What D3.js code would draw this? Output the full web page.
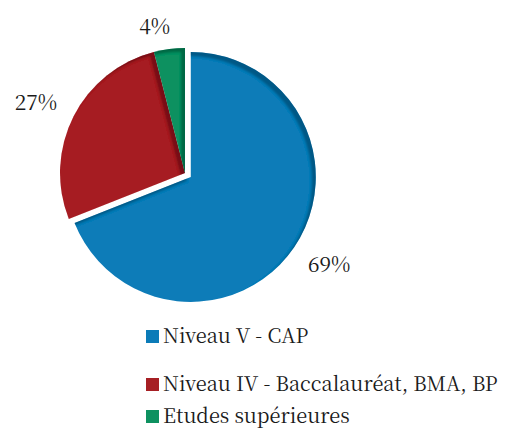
<!DOCTYPE html>
<html>
<head>
<meta charset="utf-8">
<script src="https://cdn.jsdelivr.net/npm/d3@7"></script>
<style>
  body { margin: 0; background: #fff; }
</style>
</head>
<body>
<div id="chart"></div>
<script>
var width = 509, height = 428
var serif = "'Noto Serif CJK SC'"

// data
const categories = ["Niveau V - CAP", "Niveau IV - Baccalauréat, BMA, BP", "Etudes supérieures"];
const values = [69, 27, 4];
const labels = ["69%", "27%", "4%"];
const colors = ["#0b7bb8", "#a61f24", "#0e9160"];
const explode = [7, 0, 0];

var cx = 185, cy = 173, radius = 125, labelGap = 21
// small manual nudge for the label of the thin slice
var labelNudge = [[0, 0], [0, 0], [-10, 8]]

var svg = d3.select("#chart")
    .append("svg")
    .attr("width", width)
    .attr("height", height)

// inner shadow for the bevel look
var defs = svg.append("defs")
var f = defs.append("filter").attr("id", "bevel")
    .attr("x", "-10%").attr("y", "-10%").attr("width", "120%").attr("height", "120%")
f.append("feOffset").attr("in", "SourceAlpha").attr("dx", -4).attr("dy", 4).attr("result", "off")
f.append("feGaussianBlur").attr("in", "off").attr("stdDeviation", 0.9).attr("result", "blur")
f.append("feComposite").attr("operator", "out").attr("in", "SourceAlpha").attr("in2", "blur").attr("result", "inv")
f.append("feFlood").attr("flood-color", "#000").attr("flood-opacity", 0.5).attr("result", "col")
f.append("feComposite").attr("operator", "in").attr("in", "col").attr("in2", "inv").attr("result", "shadow")
var m = f.append("feMerge")
m.append("feMergeNode").attr("in", "SourceGraphic")
m.append("feMergeNode").attr("in", "shadow")

var pie = d3.pie().sort(null).value(d => d)
var arcs = pie(values)

var arc = d3.arc().innerRadius(0).outerRadius(radius)

var g = svg.append("g")
    .attr("transform", "translate(" + cx + "," + cy + ")")

function midAngle(d) { return (d.startAngle + d.endAngle) / 2 }

var slice = g.selectAll(".slice")
    .data(arcs)
    .enter().append("g")
    .attr("class", "slice")
    .attr("transform", function (d, i) {
        var a = midAngle(d)
        return "translate(" + Math.sin(a) * explode[i] + "," + (-Math.cos(a) * explode[i]) + ")"
    })

slice.append("path")
    .attr("d", arc)
    .style("fill", (d, i) => colors[i])
    .attr("filter", "url(#bevel)")

// outside-end labels: the label box sits just outside the rim, along the mid angle
slice.append("text")
    .attr("text-anchor", "middle")
    .attr("dy", ".35em")
    .style("font-family", serif)
    .style("font-size", "21px")
    .style("fill", "#1a1a1a")
    .text((d, i) => labels[i])
    .attr("transform", function (d, i) {
        var a = midAngle(d)
        var w = this.getBBox().width, h = 20
        var r = radius + labelGap
        var x = Math.sin(a) * (r + 0) + Math.sin(a) * w / 2 + labelNudge[i][0]
        var y = -Math.cos(a) * r - Math.cos(a) * h / 2 + labelNudge[i][1]
        return "translate(" + x + "," + y + ")"
    })

// Legend
var legendY = [330, 378, 410]
var legend = svg.selectAll(".legend")
    .data(categories)
    .enter().append("g")
    .attr("class", "legend")
    .attr("transform", (d, i) => "translate(146," + legendY[i] + ")")

legend.append("rect")
    .attr("width", 13)
    .attr("height", 13)
    .style("fill", (d, i) => colors[i])

legend.append("text")
    .attr("x", 17)
    .attr("y", 13)
    .style("font-family", serif)
    .style("font-size", "20px")
    .style("fill", "#1a1a1a")
    .text(d => d)
</script>
</body>
</html>
